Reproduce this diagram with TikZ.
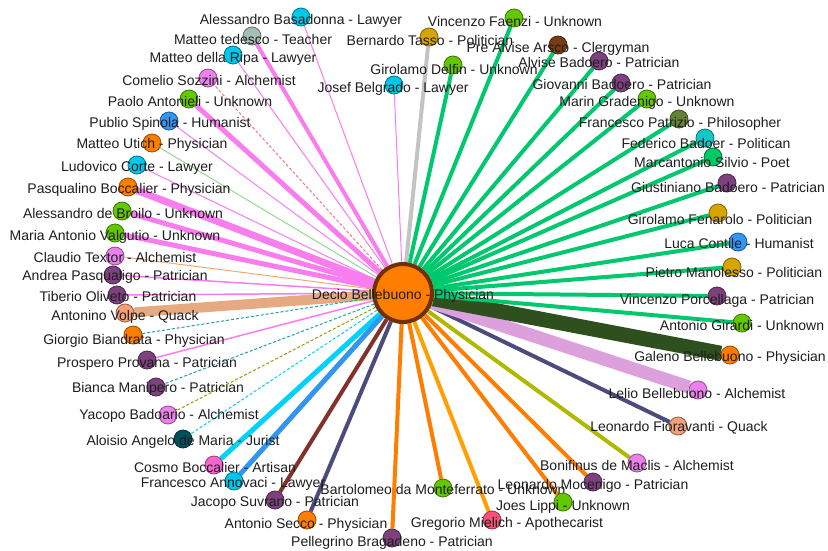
\documentclass[tikz,border=0pt]{standalone}
\usepackage{fontspec}
\setmainfont{Liberation Sans}
\pgfdeclarelayer{bglayer}
\pgfdeclarelayer{edgelayer}
\pgfsetlayers{bglayer,edgelayer,main}
% node colours
\definecolor{cLawyer}{RGB}{0,200,235}
\definecolor{cTeacher}{RGB}{165,190,180}
\definecolor{cAlch}{RGB}{235,130,235}
\definecolor{cUnk}{RGB}{100,200,0}
\definecolor{cHum}{RGB}{50,150,245}
\definecolor{cPhys}{RGB}{255,125,0}
\definecolor{cPatr}{RGB}{125,65,125}
\definecolor{cQuack}{RGB}{245,160,120}
\definecolor{cJurist}{RGB}{0,80,90}
\definecolor{cArtisan}{RGB}{250,100,210}
\definecolor{cPol}{RGB}{215,165,0}
\definecolor{cCler}{RGB}{120,60,20}
\definecolor{cPhil}{RGB}{100,130,50}
\definecolor{cPoet}{RGB}{0,200,100}
\definecolor{cPolitican}{RGB}{20,200,200}
\definecolor{cApoth}{RGB}{250,80,120}
\definecolor{cCenterRim}{RGB}{110,50,0}
% edge colours
\definecolor{ePink}{RGB}{250,125,240}
\definecolor{eGreen}{RGB}{0,200,110}
\definecolor{eGray}{RGB}{195,195,195}
\definecolor{eTan}{RGB}{230,170,130}
\definecolor{eDkGreen}{RGB}{45,80,30}
\definecolor{ePlum}{RGB}{220,160,220}
\definecolor{eSlate}{RGB}{75,75,125}
\definecolor{eOrange}{RGB}{255,125,0}
\definecolor{eAmber}{RGB}{255,160,0}
\definecolor{eOlive}{RGB}{175,185,0}
\definecolor{eBrown}{RGB}{130,50,40}
\definecolor{eCyan}{RGB}{0,210,250}
\definecolor{eBlue}{RGB}{50,150,240}
\definecolor{eTeal}{RGB}{30,160,170}
\definecolor{eLtGreen}{RGB}{150,215,150}
\definecolor{eSalmon}{RGB}{240,120,140}
\definecolor{ePeach}{RGB}{240,170,120}
\definecolor{txt}{RGB}{30,30,30}
\newcommand{\mkperson}[7]{%
  \node[person=#4] (#1) at (#2,#3) {};
  \node[lbl] (#1-l) at (#5,#6) {#7};
}
\begin{document}
\begin{tikzpicture}[x=1pt,y=-1pt,
  person/.style={circle,fill=#1,draw=#1!60!black,line width=0.8,minimum size=18,inner sep=0},
  lbl/.style={inner sep=0,text=txt,font=\fontsize{14}{16}\selectfont},
  centre/.style={circle,fill=cPhys,draw=cCenterRim,line width=4,minimum size=58,inner sep=0},
  link/.style={line width=#1},
  thinlink/.style={line width=1},
  dashlink/.style={line width=1,dash pattern=on 3pt off 2pt}]
\begin{pgfonlayer}{bglayer}
\fill[white] (0,0) rectangle (828,551);
\end{pgfonlayer}
\useasboundingbox (0,0) rectangle (828,551);

\node[centre] (c) at (403,293) {};

\mkperson{basadonna}{301}{17}{cLawyer}{301}{21}{Alessandro Basadonna - Lawyer}
\mkperson{tedesco}{252}{36}{cTeacher}{253}{39}{Matteo tedesco - Teacher}
\mkperson{ripa}{233}{55}{cLawyer}{233}{59}{Matteo della Ripa - Lawyer}
\mkperson{sozzini}{208}{78}{cAlch}{209}{80}{Comelio Sozzini - Alchemist}
\mkperson{antonieli}{189}{99}{cUnk}{190}{101}{Paolo Antonieli - Unknown}
\mkperson{spinola}{169}{121}{cHum}{170}{124}{Publio Spinola - Humanist}
\mkperson{utich}{152}{143}{cPhys}{152}{145}{Matteo Utich - Physician}
\mkperson{corte}{137}{165}{cLawyer}{137}{168}{Ludovico Corte - Lawyer}
\mkperson{pasqualino}{128}{187}{cPhys}{129}{190}{Pasqualino Boccalier - Physician}
\mkperson{broilo}{122}{211}{cUnk}{123}{213}{Alessandro de Broilo - Unknown}
\mkperson{valgutio}{115}{233}{cUnk}{115}{237}{Maria Antonio Valgutio - Unknown}
\mkperson{textor}{115}{256}{cAlch}{115}{257}{Claudio Textor - Alchemist}
\mkperson{andrea}{113}{275}{cPatr}{115}{277}{Andrea Pasqualigo - Patrician}
\mkperson{tiberio}{117}{295}{cPatr}{118}{296}{Tiberio Oliveto - Patrician}
\mkperson{volpe}{125}{313}{cQuack}{125}{317}{Antonino Volpe - Quack}
\mkperson{biandrata}{133}{335}{cPhys}{134}{341}{Giorgio Biandrata - Physician}
\mkperson{provana}{147}{360}{cPatr}{147}{364}{Prospero Provana - Patrician}
\mkperson{manipero}{156}{387}{cPatr}{158}{389}{Bianca Manipero - Patrician}
\mkperson{yacopo}{168}{415}{cAlch}{169}{416}{Yacopo Badoario - Alchemist}
\mkperson{aloisio}{183}{439}{cJurist}{183}{442}{Aloisio Angelo de Maria - Jurist}
\mkperson{cosmo}{214}{465}{cArtisan}{215}{467}{Cosmo Boccalier - Artisan}
\mkperson{annovaci}{234}{481}{cLawyer}{233}{484}{Francesco Annovaci - Lawyer}
\mkperson{suvrano}{275}{500}{cPatr}{275}{503}{Jacopo Suvrano - Patrician}
\mkperson{secco}{307}{520}{cPhys}{306}{525}{Antonio Secco - Physician}
\mkperson{bragadeno}{392}{538}{cPatr}{392}{543}{Pellegrino Bragadeno - Patrician}
\mkperson{bartolomeo}{443}{488}{cUnk}{443}{489}{Bartolomeo da Monteferrato - Unknown}
\mkperson{mielich}{492}{520}{cApoth}{507}{524}{Gregorio Mielich - Apothecarist}
\mkperson{lippi}{563}{502}{cUnk}{563}{507}{Joes Lippi - Unknown}
\mkperson{mocenigo}{593}{482}{cPatr}{593}{486}{Leonardo Mocenigo - Patrician}
\mkperson{maclis}{637}{463}{cAlch}{637}{465}{Bonifinus de Maclis - Alchemist}
\mkperson{fioravanti}{678}{426}{cQuack}{679}{428}{Leonardo Fioravanti - Quack}
\mkperson{lelio}{698}{390}{cAlch}{697}{393}{Lelio Bellebuono - Alchemist}
\mkperson{galeno}{730}{355}{cPhys}{730}{358}{Galeno Bellebuono - Physician}
\mkperson{girardi}{742}{323}{cUnk}{742}{325}{Antonio Girardi - Unknown}
\mkperson{porcellaga}{717}{296}{cPatr}{717}{301}{Vincenzo Porcellaga - Patrician}
\mkperson{manolesso}{732}{267}{cPol}{734}{272}{Pietro Manolesso - Politician}
\mkperson{contile}{738}{242}{cHum}{739}{243}{Luca Contile - Humanist}
\mkperson{fenarolo}{718}{213}{cPol}{720}{219}{Girolamo Fenarolo - Politician}
\mkperson{giustiniano}{727}{183}{cPatr}{728}{187}{Giustiniano Badoero - Patrician}
\mkperson{silvio}{713}{157}{cPoet}{712}{162}{Marcantonio Silvio - Poet}
\mkperson{federico}{705}{138}{cPolitican}{706}{143}{Federico Badoer - Politican}
\mkperson{patrizio}{679}{119}{cPhil}{680}{124}{Francesco Patrizio - Philosopher}
\mkperson{gradenigo}{647}{99}{cUnk}{647}{103}{Marin Gradenigo - Unknown}
\mkperson{giovanni}{621}{83}{cPatr}{622}{84}{Giovanni Badoero - Patrician}
\mkperson{alvise}{599}{61}{cPatr}{599}{62}{Alvise Badoero - Patrician}
\mkperson{arsco}{558}{45}{cCler}{558}{49}{Pre Alvise Arsco - Clergyman}
\mkperson{faenzi}{514}{18}{cUnk}{515}{21}{Vincenzo Faenzi - Unknown}
\mkperson{delfin}{453}{65}{cUnk}{454}{69}{Girolamo Delfin - Unknown}
\mkperson{tasso}{429}{37}{cPol}{430}{40}{Bernardo Tasso - Politician}
\mkperson{belgrado}{394}{85}{cLawyer}{393}{89}{Josef Belgrado - Lawyer}

\node[lbl] (c-l) at (403,296) {Decio Bellebuono - Physician};

\begin{pgfonlayer}{edgelayer}
% pink links (upper left)
\draw[ePink,thinlink] (c) -- (basadonna);
\draw[ePink,link=4] (c) -- (tedesco);
\draw[ePink,thinlink] (c) -- (ripa);
\draw[eSalmon,dashlink] (c) -- (sozzini);
\draw[ePink,link=5] (c) -- (antonieli);
\draw[ePink,thinlink] (c) -- (spinola);
\draw[eLtGreen,thinlink] (c) -- (utich);
\draw[ePink,thinlink] (c) -- (corte);
\draw[ePink,link=7] (c) -- (pasqualino);
\draw[ePink,link=5] (c) -- (broilo);
\draw[ePink,link=5] (c) -- (valgutio);
\draw[ePeach,thinlink] (c) -- (textor);
\draw[ePink,link=1.5] (c) -- (andrea);
\draw[ePink,link=1.5] (c) -- (tiberio);
\draw[eTan,link=10] (c) -- (volpe);
\draw[eTeal,dashlink] (c) -- (biandrata);
\draw[ePink,link=1.5] (c) -- (provana);
\draw[eTeal,dashlink] (c) -- (manipero);
\draw[eOlive!85!black,dashlink] (c) -- (yacopo);
\draw[eCyan,dashlink] (c) -- (aloisio);
\draw[ePink,thinlink] (c) -- (belgrado);
% lower links
\draw[eCyan,link=5] (c) -- (cosmo);
\draw[eBlue,link=5] (c) -- (annovaci);
\draw[eBrown,link=4] (c) -- (suvrano);
\draw[eSlate,link=4] (c) -- (secco);
\draw[eOrange,link=4] (c) -- (bragadeno);
\draw[eOrange,link=4] (c) -- (bartolomeo);
\draw[eAmber,link=4] (c) -- (mielich);
\draw[eOrange,link=4] (c) -- (lippi);
\draw[eOrange,link=4] (c) -- (mocenigo);
\draw[eOlive,link=4] (c) -- (maclis);
\draw[eSlate,link=4] (c) -- (fioravanti);
\draw[ePlum,link=13] (c) -- (lelio);
\draw[eDkGreen,link=15] (c) -- (galeno);
% green links (upper right)
\draw[eGreen,link=4] (c) -- (girardi);
\draw[eGreen,link=4] (c) -- (porcellaga);
\draw[eGreen,link=4] (c) -- (manolesso);
\draw[eGreen,link=4] (c) -- (contile);
\draw[eGreen,link=4] (c) -- (fenarolo);
\draw[eGreen,link=4] (c) -- (giustiniano);
\draw[eGreen,link=4] (c) -- (silvio);
\draw[eGreen,link=4] (c) -- (federico);
\draw[eGreen,link=4] (c) -- (patrizio);
\draw[eGreen,link=4] (c) -- (gradenigo);
\draw[eGreen,link=4] (c) -- (giovanni);
\draw[eGreen,link=4] (c) -- (alvise);
\draw[eGreen,link=4] (c) -- (arsco);
\draw[eGreen,link=4] (c) -- (faenzi);
\draw[eGreen,link=4] (c) -- (delfin);
\draw[eGray,link=4] (c) -- (tasso);
\end{pgfonlayer}
\end{tikzpicture}
\end{document}
